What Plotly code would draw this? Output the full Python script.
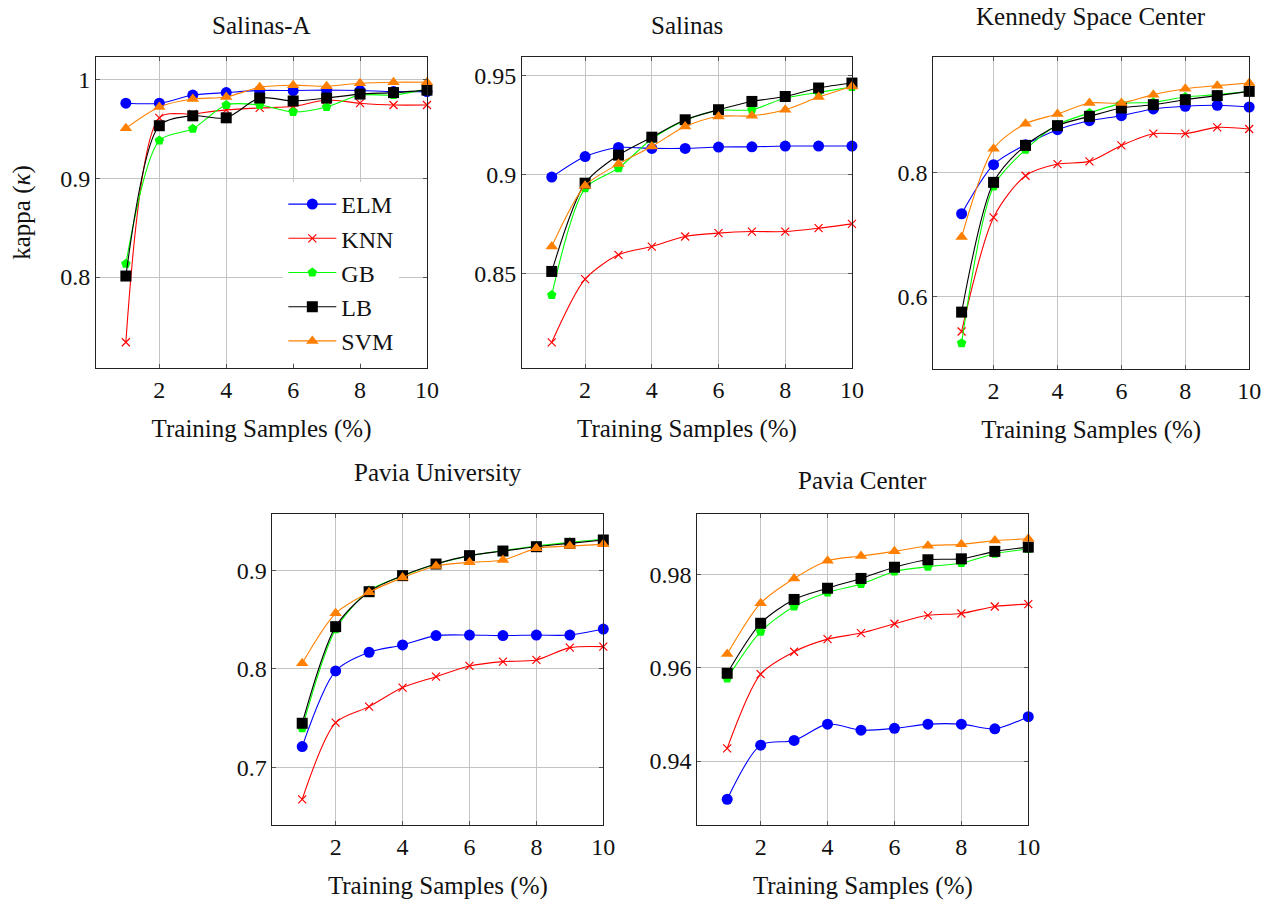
import plotly.graph_objects as go

# Training-set size (% of labelled samples)
train_pct = [1, 2, 3, 4, 5, 6, 7, 8, 9, 10]

# Kappa coefficient per dataset and classifier
salinas_a = {
    "ELM": [0.9758, 0.9758, 0.984, 0.9865, 0.9886, 0.9886, 0.989, 0.9886, 0.9875, 0.9875],
    "KNN": [0.734, 0.961, 0.965, 0.969, 0.971, 0.9724, 0.979, 0.9758, 0.974, 0.974],
    "GB": [0.8135, 0.938, 0.950, 0.974, 0.974, 0.967, 0.972, 0.984, 0.984, 0.990],
    "LB": [0.801, 0.953, 0.963, 0.961, 0.981, 0.978, 0.981, 0.985, 0.9865, 0.989],
    "SVM": [0.9505, 0.972, 0.980, 0.982, 0.992, 0.994, 0.993, 0.996, 0.997, 0.997],
}
salinas = {
    "ELM": [0.8987, 0.9091, 0.9137, 0.9132, 0.9132, 0.9139, 0.914, 0.9144, 0.9144, 0.9144],
    "KNN": [0.815, 0.847, 0.8593, 0.8635, 0.8686, 0.8703, 0.8711, 0.8711, 0.8728, 0.875],
    "GB": [0.839, 0.893, 0.9032, 0.918, 0.9274, 0.9324, 0.9328, 0.9387, 0.9416, 0.9443],
    "LB": [0.8509, 0.8956, 0.9098, 0.9189, 0.9277, 0.9328, 0.937, 0.9395, 0.9438, 0.9463],
    "SVM": [0.8635, 0.8943, 0.9053, 0.9142, 0.9243, 0.9294, 0.9297, 0.9328, 0.9392, 0.9446],
}
ksc = {
    "ELM": [0.7333, 0.8124, 0.8446, 0.8688, 0.8833, 0.8914, 0.9022, 0.9065, 0.9081, 0.9054],
    "KNN": [0.5435, 0.7274, 0.7946, 0.8134, 0.8177, 0.8435, 0.8624, 0.8624, 0.8726, 0.8699],
    "GB": [0.5247, 0.7774, 0.8366, 0.8769, 0.8957, 0.9108, 0.9129, 0.9215, 0.9253, 0.9306],
    "LB": [0.5747, 0.7839, 0.8435, 0.8753, 0.8903, 0.9038, 0.9091, 0.9172, 0.9237, 0.9306],
    "SVM": [0.6957, 0.8382, 0.8785, 0.8941, 0.9118, 0.9118, 0.9253, 0.9349, 0.9398, 0.9441],
}
pavia_u = {
    "ELM": [0.721, 0.7978, 0.8168, 0.8242, 0.8337, 0.8343, 0.8337, 0.8343, 0.8343, 0.8404],
    "KNN": [0.6675, 0.7453, 0.7616, 0.7809, 0.792, 0.8029, 0.8073, 0.809, 0.8215, 0.8225],
    "GB": [0.7396, 0.8401, 0.8794, 0.8942, 0.9064, 0.9146, 0.92, 0.9247, 0.9284, 0.9315],
    "LB": [0.7447, 0.8428, 0.8783, 0.8946, 0.9064, 0.9149, 0.9196, 0.924, 0.9274, 0.9308],
    "SVM": [0.8056, 0.8563, 0.8777, 0.8926, 0.9044, 0.9081, 0.9105, 0.9223, 0.9247, 0.9264],
}
pavia_c = {
    "ELM": [0.9318, 0.9434, 0.9444, 0.9479, 0.9466, 0.947, 0.9479, 0.9479, 0.9469, 0.9495],
    "KNN": [0.9427, 0.9586, 0.9634, 0.9661, 0.9674, 0.9694, 0.9712, 0.9716, 0.9731, 0.9736],
    "GB": [0.9577, 0.9677, 0.9731, 0.9761, 0.9779, 0.9806, 0.9816, 0.9824, 0.9844, 0.9854],
    "LB": [0.9588, 0.9695, 0.9746, 0.977, 0.9791, 0.9815, 0.9831, 0.9833, 0.9849, 0.9858],
    "SVM": [0.9629, 0.9738, 0.9791, 0.9829, 0.9839, 0.9849, 0.9861, 0.9864, 0.9872, 0.9876],
}

titles = ["Salinas-A", "Salinas", "Kennedy Space Center", "Pavia University", "Pavia Center"]
datasets = [salinas_a, salinas, ksc, pavia_u, pavia_c]

y_ticks = [
    [0.8, 0.9, 1.0],
    [0.85, 0.9, 0.95],
    [0.6, 0.8],
    [0.7, 0.8, 0.9],
    [0.94, 0.96, 0.98],
]
y_ticktext = [
    ["0.8", "0.9", "1"],
    ["0.85", "0.9", "0.95"],
    ["0.6", "0.8"],
    ["0.7", "0.8", "0.9"],
    ["0.94", "0.96", "0.98"],
]
x_ticks = [2, 4, 6, 8, 10]

# Layout of the five panels (paper fractions)
W, H = 1282, 900
panel_px = [
    (97, 431, 57, 368),
    (527, 860, 57, 368),
    (942, 1261, 57, 369),
    (275, 609, 514, 825),
    (704, 1038, 514, 825),
]
y_ranges = [
    [0.708, 1.0225],
    [0.802, 0.9595],
    [0.483, 0.986],
    [0.6414, 0.9572],
    [0.9263, 0.9929],
]
x_range = [0.11, 10]
title_pos = [(264, 25), (693, 25), (1101, 17), (442, 472), (871, 480)]

styles = {
    "ELM": dict(color="#0000ff", symbol="circle", size=11),
    "KNN": dict(color="#ff0000", symbol="x-thin", size=8),
    "GB": dict(color="#00ff00", symbol="pentagon", size=10),
    "LB": dict(color="#000000", symbol="square", size=11),
    "SVM": dict(color="#ff8000", symbol="triangle-up", size=11),
}

FONT = "Liberation Serif, Times New Roman, DejaVu Serif, serif"
TXT = "#111111"
fig = go.Figure()

for i, data in enumerate(datasets):
    suffix = "" if i == 0 else str(i + 1)
    for name, vals in data.items():
        st = styles[name]
        marker = dict(color=st["color"], symbol=st["symbol"], size=st["size"])
        if st["symbol"] == "x-thin":
            marker["line"] = dict(color=st["color"], width=1.2)
        fig.add_trace(go.Scatter(
            x=train_pct, y=vals, name=name, mode="lines+markers",
            line=dict(color=st["color"], width=1.1, shape="spline", smoothing=0.8),
            marker=marker, cliponaxis=False,
            xaxis="x" + suffix, yaxis="y" + suffix,
            showlegend=(i == 0), legendgroup=name,
        ))

    x0, x1, y0, y1 = panel_px[i]
    axis_common = dict(
        showline=True, linecolor="#222222", linewidth=1, mirror="allticks",
        ticks="inside", ticklen=4, tickcolor="#555555",
        showgrid=True, gridcolor="#c4c4c4", gridwidth=1, zeroline=False,
        tickfont=dict(family=FONT, size=24, color=TXT),
    )
    fig.update_layout(**{
        "xaxis" + suffix: dict(
            domain=[x0 / W, x1 / W], range=x_range, anchor="y" + suffix,
            tickvals=x_ticks, ticktext=[str(v) for v in x_ticks],
            title=dict(text="Training Samples (%)", standoff=17,
                       font=dict(family=FONT, size=25, color=TXT)),
            **axis_common,
        ),
        "yaxis" + suffix: dict(
            domain=[1 - y1 / H, 1 - y0 / H], range=y_ranges[i], anchor="x" + suffix,
            tickvals=y_ticks[i], ticktext=y_ticktext[i],
            title=dict(text="kappa (<i>κ</i>)" if i == 0 else "", standoff=22,
                       font=dict(family=FONT, size=25, color=TXT)),
            **axis_common,
        ),
    })
    tx, ty = title_pos[i]
    fig.add_annotation(
        text=titles[i], xref="paper", yref="paper", x=tx / W, y=1 - ty / H,
        xanchor="center", yanchor="middle", showarrow=False,
        font=dict(family=FONT, size=25, color=TXT),
    )

fig.update_layout(
    width=W, height=H, margin=dict(l=0, r=0, t=0, b=0),
    paper_bgcolor="white", plot_bgcolor="white",
    font=dict(family=FONT, size=24, color=TXT),
    legend=dict(
        x=286 / W, y=1 - 182 / H, xanchor="left", yanchor="top",
        bgcolor="white", borderwidth=0, tracegroupgap=0,
        font=dict(family=FONT, size=24, color=TXT),
        itemwidth=48,
    ),
)

fig.write_html("out.html")
